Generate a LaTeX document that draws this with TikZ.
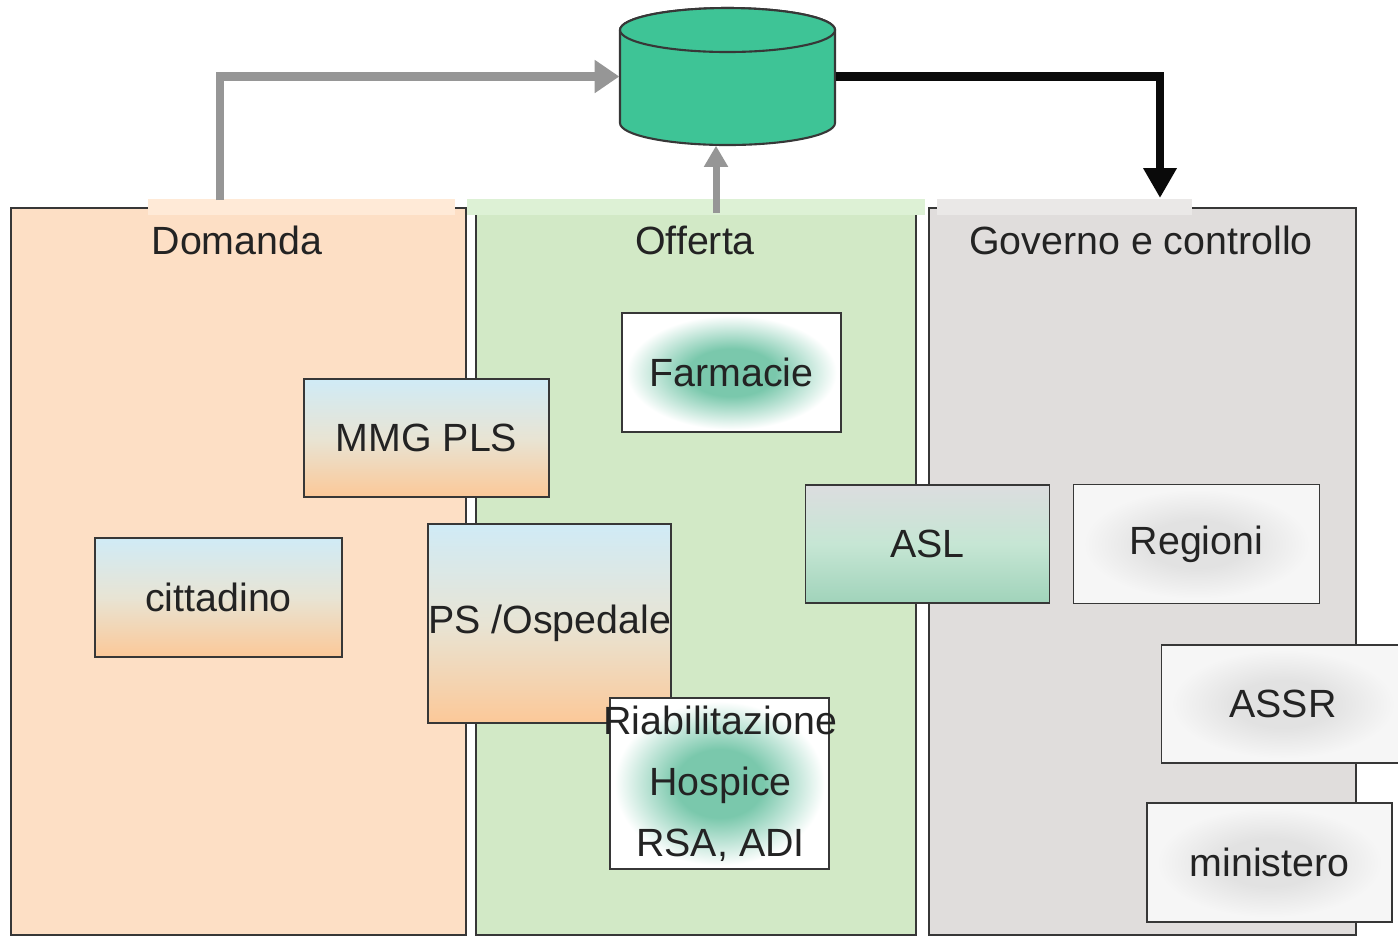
\documentclass[tikz,border=0pt]{standalone}
\usepackage{fontspec}
\setmainfont{Liberation Sans}
\usetikzlibrary{positioning,arrows.meta}
\definecolor{ssPeach}{RGB}{253,223,197}
\definecolor{ssPeachLt}{RGB}{255,234,215}
\definecolor{ssGreen}{RGB}{210,233,198}
\definecolor{ssGreenLt}{RGB}{221,241,213}
\definecolor{ssGrey}{RGB}{224,221,220}
\definecolor{ssGreyLt}{RGB}{234,232,231}
\definecolor{ssLine}{RGB}{55,55,55}
\definecolor{ssInk}{RGB}{35,35,35}
\definecolor{ssSky}{RGB}{208,235,246}
\definecolor{ssBlend}{RGB}{232,228,212}
\definecolor{ssApricot}{RGB}{252,200,152}
\definecolor{ssFog}{RGB}{220,221,223}
\definecolor{ssMintLt}{RGB}{198,230,212}
\definecolor{ssMint}{RGB}{160,211,186}
\definecolor{ssTeal}{RGB}{122,200,172}
\definecolor{ssMist}{RGB}{226,226,226}
\definecolor{ssSnow}{RGB}{246,246,246}
\definecolor{ssJade}{RGB}{62,196,150}
\definecolor{ssArrow}{RGB}{150,150,150}
\definecolor{ssBlack}{RGB}{10,10,10}
\pgfdeclareradialshading{tealglow}{\pgfpoint{0bp}{0bp}}{color(0bp)=(ssTeal); color(10bp)=(ssTeal); color(24bp)=(white); color(50bp)=(white)}
\pgfdeclareradialshading{greyglow}{\pgfpoint{0bp}{0bp}}{color(0bp)=(ssMist); color(10bp)=(ssMist); color(23bp)=(ssSnow); color(50bp)=(ssSnow)}
\tikzset{
    base/.style={font=\fontsize{11.2pt}{13pt}\selectfont, text=ssInk, align=center},
    panel/.style={draw=ssLine, line width=0.6pt, anchor=north west, inner sep=0pt,
                  minimum height=7.27cm},
    headtext/.style={base},
    cellbox/.style={base, rectangle, draw=ssLine, line width=0.45pt, inner sep=0pt,
                    minimum width=2.45cm, minimum height=1.19cm},
    warmbox/.style={cellbox, top color=ssSky, bottom color=ssApricot, middle color=ssBlend},
    aslbox/.style={cellbox, top color=ssFog, bottom color=ssMint, middle color=ssMintLt},
    tealbox/.style={cellbox, shade, shading=tealglow},
    greybox/.style={cellbox, shade, shading=greyglow},
    stacktext/.style={base, font=\fontsize{11.2pt}{17.4pt}\selectfont, inner sep=0pt},
    drum/.style={draw=ssLine, line width=0.6pt, fill=ssJade},
    flowgrey/.style={-{Triangle[length=7pt,width=9pt]}, line width=2.3pt, color=ssArrow},
    flowgreysm/.style={-{Triangle[length=6pt,width=6.5pt]}, line width=2pt, color=ssArrow},
    flowblack/.style={-{Triangle[length=8.5pt,width=9pt]}, line width=2.3pt, color=ssBlack}
}
\begin{document}
\begin{tikzpicture}[x=1cm, y=-1cm]
  \useasboundingbox (0,0) rectangle (13.98,9.37);
  % Columns
  \node[panel, fill=ssPeach, minimum width=4.55cm] (domanda) at (0.10,2.07) {};
  \node[panel, fill=ssGreen, minimum width=4.40cm] (offerta) at (4.75,2.07) {};
  \node[panel, fill=ssGrey, minimum width=4.27cm] (governo) at (9.28,2.07) {};
  \fill[ssPeachLt] (1.48,1.99) rectangle (4.55,2.15);
  \fill[ssGreenLt] (4.67,1.99) rectangle (9.25,2.15);
  \fill[ssGreyLt] (9.37,1.99) rectangle (11.92,2.15);
  \node[headtext] (domandaT) at (2.37,2.40) {Domanda};
  \node[headtext] (offertaT) at (6.95,2.40) {Offerta};
  \node[headtext] (governoT) at (11.41,2.40) {Governo e controllo};

  % Database
  \node[inner sep=0pt, minimum width=2.15cm, minimum height=1.37cm] (db) at (7.275,0.765) {};
  \filldraw[drum] (8.35,0.30) -- (8.35,1.23)
    arc[start angle=0, end angle=180, x radius=1.075, y radius=0.22]
    -- (6.20,0.30)
    arc[start angle=180, end angle=360, x radius=1.075, y radius=0.22] -- cycle;
  \draw[drum] (7.275,0.30) ellipse[x radius=1.075, y radius=0.22];
  \coordinate (domOut) at (2.20,2.00);
  \coordinate (offOut) at (7.16,2.13);
  \coordinate (govIn) at (11.60,1.98);
  \draw[flowgrey] (domOut) |- (db.west);
  \draw[flowgreysm] (offOut) -- (offOut |- db.south);
  \draw[flowblack] (db.east) -| (govIn);

  % Actors
  \node[warmbox, minimum height=1.18cm] (mmg) at (4.265,4.38) {MMG PLS};
  \node[warmbox, minimum width=2.47cm] (cittadino) at (2.185,5.975) {cittadino};
  \node[warmbox, minimum width=2.43cm, minimum height=1.99cm] (ps) at (5.495,6.235) {PS /Ospedale};
  \node[tealbox, minimum width=2.19cm] (farmacie) at (7.315,3.725) {Farmacie};
  \node[tealbox, minimum width=2.19cm, minimum height=1.71cm] (riab) at (7.195,7.835) {};
  \node[stacktext] (riabT) at (7.205,7.835) {Riabilitazione\\Hospice\\RSA, ADI};
  \node[aslbox, minimum width=2.44cm, minimum height=1.18cm] (asl) at (9.275,5.44) {ASL};
  \node[greybox, minimum width=2.46cm] (regioni) at (11.965,5.44) {Regioni};
  \node[greybox, minimum width=2.43cm, minimum height=1.18cm] (assr) at (12.83,7.04) {ASSR};
  \node[greybox] (ministero) at (12.695,8.625) {ministero};
\end{tikzpicture}
\end{document}
